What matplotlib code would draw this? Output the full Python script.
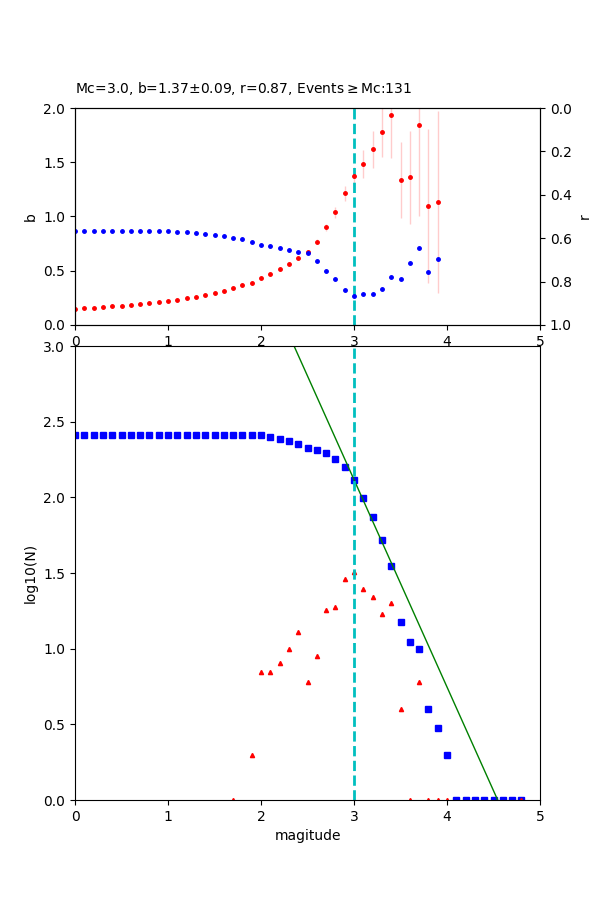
import numpy as np
import matplotlib
matplotlib.use('Agg')
import matplotlib.pyplot as plt

# magnitude bins
mags = np.round(np.arange(0.0, 4.9, 0.1), 1)

# b-value and correlation r for each trial Mc (0.0 .. 3.9)
mc_trial = np.round(np.arange(0.0, 4.0, 0.1), 1)
b_vals = [0.145, 0.154, 0.154, 0.163, 0.172, 0.172, 0.18, 0.19, 0.2, 0.21,
          0.22, 0.23, 0.246, 0.255, 0.274, 0.29, 0.31, 0.338, 0.366, 0.39,
          0.43, 0.467, 0.513, 0.56, 0.615, 0.672, 0.768, 0.9, 1.039, 1.214,
          1.37, 1.484, 1.619, 1.776, 1.94, 1.333, 1.36, 1.84, 1.094, 1.134]
b_err = [0.002, 0.002, 0.002, 0.002, 0.002, 0.002, 0.002, 0.002, 0.002, 0.002,
         0.003, 0.003, 0.003, 0.003, 0.004, 0.004, 0.005, 0.005, 0.006, 0.007,
         0.008, 0.009, 0.01, 0.012, 0.014, 0.02, 0.022, 0.03, 0.05, 0.07,
         0.09, 0.13, 0.17, 0.23, 0.40, 0.35, 0.43, 0.84, 0.71, 0.84]
r_vals = [0.568] * 11 + [0.573, 0.573, 0.578, 0.582, 0.587, 0.591, 0.6, 0.605,
                         0.619, 0.633, 0.637, 0.647, 0.656, 0.665, 0.67, 0.707,
                         0.753, 0.789, 0.84, 0.868, 0.859, 0.859, 0.836, 0.78,
                         0.789, 0.716, 0.647, 0.757, 0.697]

# events per bin (non-cumulative), 0 = empty bin
counts = [0] * 17 + [1, 0, 2, 7, 7, 8, 10, 13, 6, 9, 18, 19, 29, 32, 25, 22,
                     17, 20, 4, 1, 6, 1, 1, 1, 0, 0, 0, 0, 0, 0, 0, 1]

Mc = 3.0
b_fit = 1.37
b_fit_err = 0.09
r_fit = 0.87

counts = np.array(counts, dtype=float)
cum = np.cumsum(counts[::-1])[::-1]
n_mc = int(cum[mags == Mc][0])
a_fit = np.log10(n_mc) + b_fit * Mc

fig = plt.figure(figsize=(6, 9), dpi=100)
ax1 = fig.add_axes([0.125, 0.639, 0.775, 0.241])
ax2 = ax1.twinx()
ax3 = fig.add_axes([0.125, 0.111, 0.775, 0.5045])

# top: b-value and r vs Mc
ax1.errorbar(mc_trial, b_vals, yerr=b_err, fmt='r.', ecolor='r', elinewidth=1,
             alpha=1, markersize=5)
for line in ax1.lines[1:]:
    line.set_alpha(0.2)
for coll in ax1.collections:
    coll.set_alpha(0.2)
ax1.axvline(Mc, color='c', linestyle='--', linewidth=2)
ax1.set_xlim(0, 5)
ax1.set_ylim(0, 2)
ax1.set_ylabel('b')
ax1.set_title('Mc=%.1f, b=%.2f$\\pm$%.2f, r=%.2f, Events$\\geq$Mc:%d'
              % (Mc, b_fit, b_fit_err, r_fit, n_mc), loc='left', fontsize=10,
              pad=11)

ax2.plot(mc_trial, r_vals, 'b.', markersize=5)
ax2.set_ylim(1, 0)
ax2.set_ylabel('r')

# bottom: frequency-magnitude distribution
cum_ok = cum > 0
ax3.plot(mags[cum_ok], np.log10(cum[cum_ok]), 'bs', markersize=4)
cnt_ok = counts > 0
ax3.plot(mags[cnt_ok], np.log10(counts[cnt_ok]), 'r^', markersize=3)
xfit = np.linspace(0, 5, 50)
ax3.plot(xfit, a_fit - b_fit * xfit, 'g-', linewidth=1)
ax3.axvline(Mc, color='c', linestyle='--', linewidth=2)
ax3.set_xlim(0, 5)
ax3.set_ylim(0, 3)
ax3.set_xlabel('magitude')
ax3.set_ylabel('log10(N)')

fig.savefig('out.png')
